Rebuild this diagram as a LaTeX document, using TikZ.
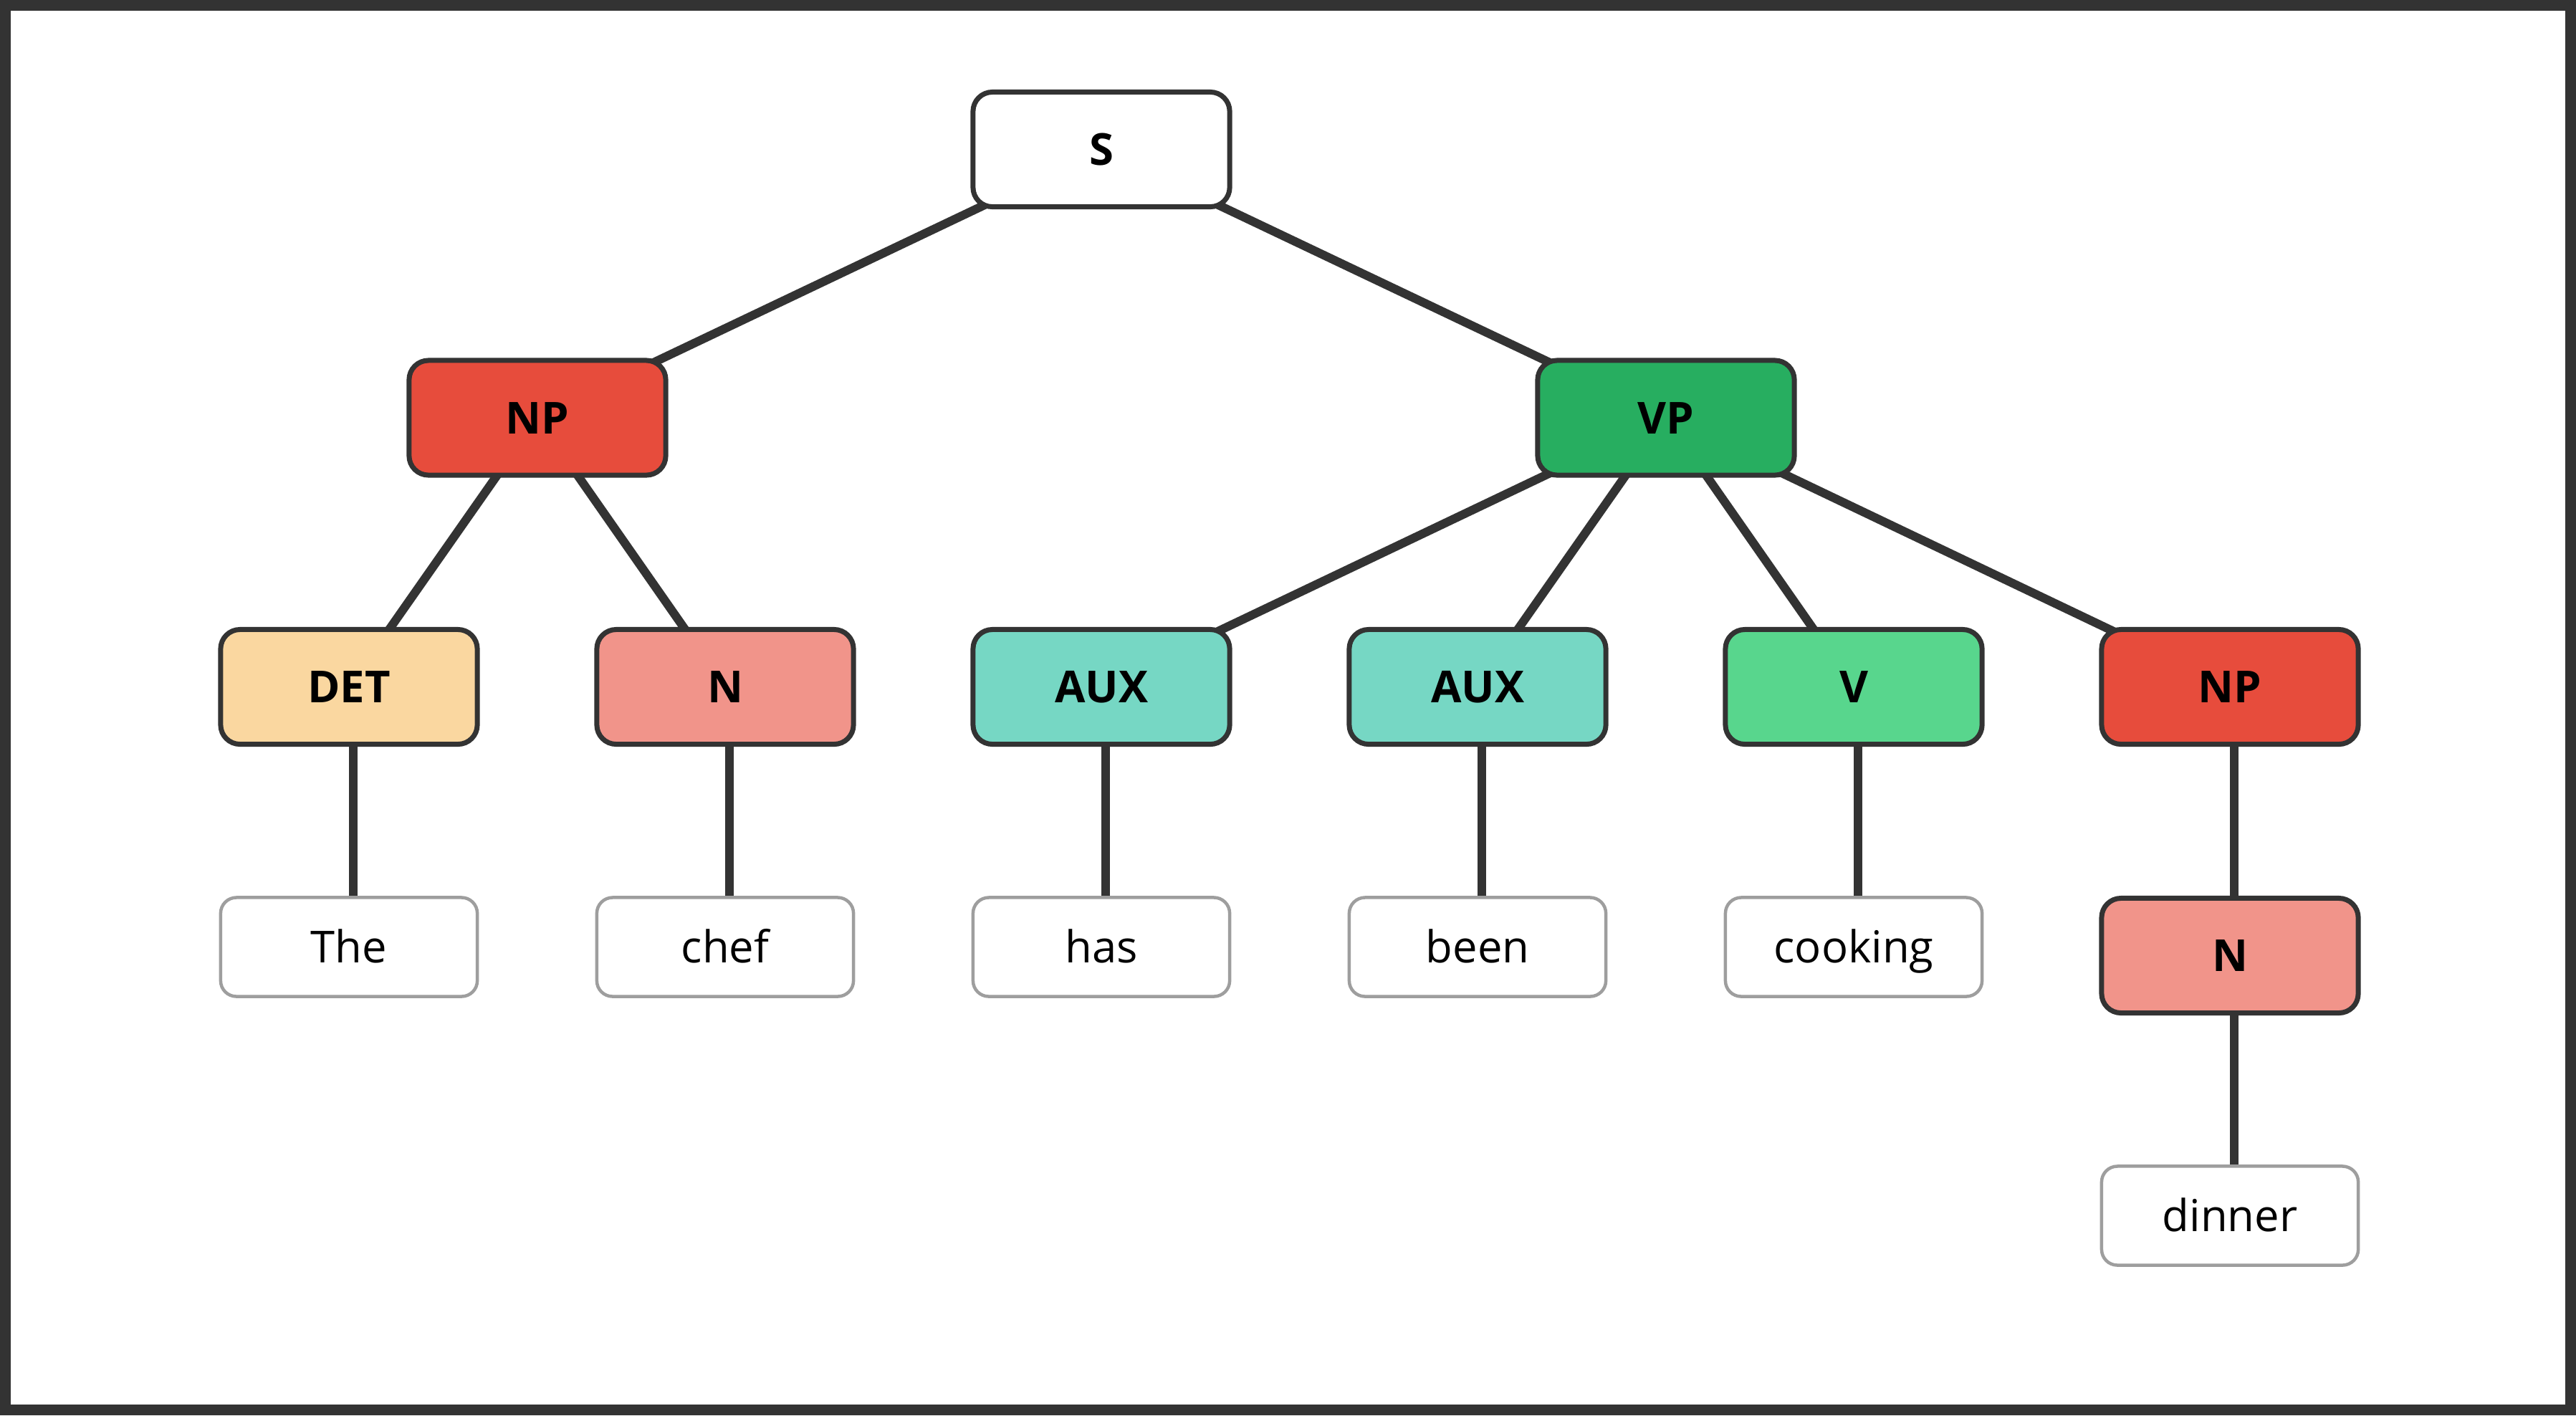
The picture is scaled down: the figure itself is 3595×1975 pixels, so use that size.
\documentclass[tikz,border=0pt]{standalone}
\usepackage{fontspec}
\setmainfont{Open Sans}
\usetikzlibrary{backgrounds}
\definecolor{edgec}{HTML}{333333}
\definecolor{leafc}{HTML}{9E9E9E}
\definecolor{npc}{HTML}{E74C3C}
\definecolor{vpc}{HTML}{27AE60}
\definecolor{detc}{HTML}{FAD7A0}
\definecolor{nc}{HTML}{F1948A}
\definecolor{auxc}{HTML}{76D7C4}
\definecolor{vc}{HTML}{58D68D}
\tikzset{
  cat/.style={draw=edgec, line width=0.07cm, rounded corners=0.27cm,
    minimum width=3.58cm, minimum height=1.6cm, inner sep=0pt,
    text height=12.6pt, text depth=0pt,
    font=\fontsize{17.5}{21}\selectfont\bfseries, text=black},
  leaf/.style={draw=leafc, fill=white, line width=0.045cm, rounded corners=0.22cm,
    minimum width=3.58cm, minimum height=1.38cm, inner sep=0pt,
    text height=12.6pt, text depth=0pt,
    font=\fontsize{17.5}{21}\selectfont, text=black},
  branch/.style={draw=edgec, line width=0.12cm},
  frame/.style={draw=edgec, line width=0.15cm}
}
\begin{document}
\begin{tikzpicture}[x=0.01cm, y=-0.01cm]
\useasboundingbox (0,0) rectangle (3595,1975);

\node[cat, fill=white] (s) at (1537,208.5) {S};
\node[cat, fill=npc] (np1) at (750,583) {NP};
\node[cat, fill=vpc] (vp) at (2325,583) {VP};

\node[cat, fill=detc] (det) at (487,958.5) {DET};
\node[cat, fill=nc] (n1) at (1012,958.5) {N};
\node[cat, fill=auxc] (aux1) at (1537,958.5) {AUX};
\node[cat, fill=auxc] (aux2) at (2062,958.5) {AUX};
\node[cat, fill=vc] (v) at (2587,958.5) {V};
\node[cat, fill=npc] (np2) at (3112,958.5) {NP};

\node[leaf] (the) at (487,1321.5) {The};
\node[leaf] (chef) at (1012,1321.5) {chef};
\node[leaf] (has) at (1537,1321.5) {has};
\node[leaf] (been) at (2062,1321.5) {been};
\node[leaf] (cooking) at (2587,1321.5) {cooking};
\node[cat, fill=nc] (n2) at (3112,1333.5) {N};
\node[leaf] (dinner) at (3112,1696.5) {dinner};

\begin{pgfonlayer}{background}
\fill[white] (0,0) rectangle (3595,1975);
\draw[frame] (7.5,7.5) rectangle (3587.5,1967.5);
\draw[branch] (s.center) -- (np1.center);
\draw[branch] (s.center) -- (vp.center);
\draw[branch] (np1.center) -- (det.center);
\draw[branch] (np1.center) -- (n1.center);
\draw[branch] (vp.center) -- (aux1.center);
\draw[branch] (vp.center) -- (aux2.center);
\draw[branch] (vp.center) -- (v.center);
\draw[branch] (vp.center) -- (np2.center);
\draw[branch] ([xshift=0.06cm]det.center) -- ([xshift=0.06cm]the.center);
\draw[branch] ([xshift=0.06cm]n1.center) -- ([xshift=0.06cm]chef.center);
\draw[branch] ([xshift=0.06cm]aux1.center) -- ([xshift=0.06cm]has.center);
\draw[branch] ([xshift=0.06cm]aux2.center) -- ([xshift=0.06cm]been.center);
\draw[branch] ([xshift=0.06cm]v.center) -- ([xshift=0.06cm]cooking.center);
\draw[branch] ([xshift=0.06cm]np2.center) -- ([xshift=0.06cm]n2.center);
\draw[branch] ([xshift=0.06cm]n2.center) -- ([xshift=0.06cm]dinner.center);
\end{pgfonlayer}
\end{tikzpicture}
\end{document}
